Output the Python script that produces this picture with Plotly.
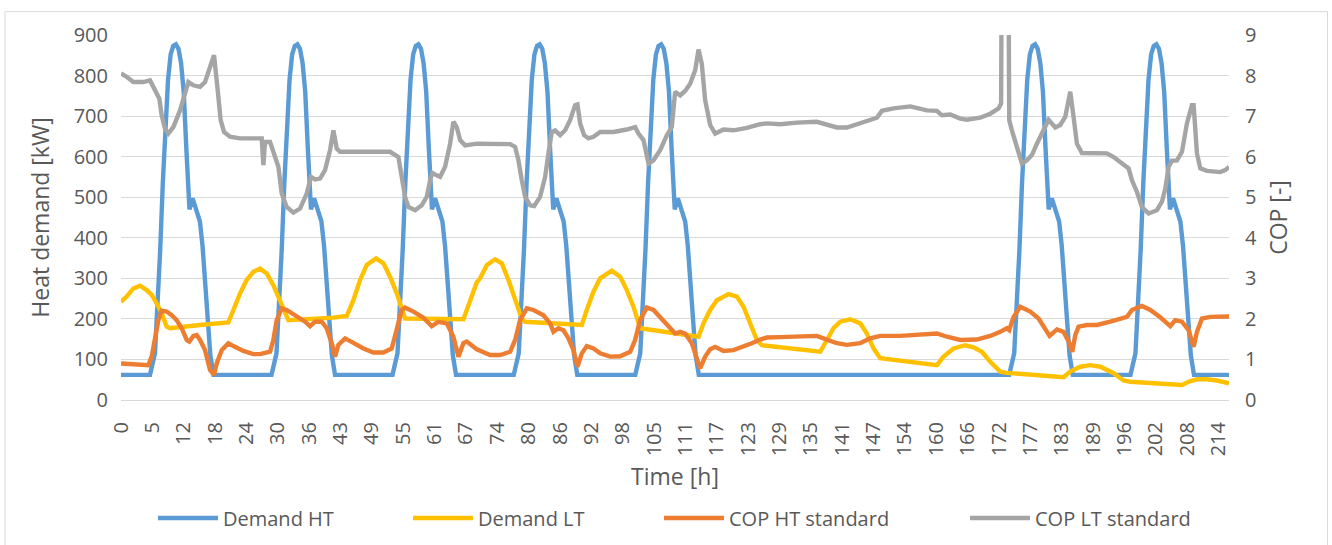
import plotly.graph_objects as go

# ---------------- data ----------------
# x positions are time-step indices (213 steps, labels every 6th step)
tick_labels = [0, 5, 12, 18, 24, 30, 36, 43, 49, 55, 61, 67, 74, 80, 86, 92, 98, 105,
               111, 117, 123, 129, 135, 141, 147, 154, 160, 166, 172, 177, 183, 189,
               196, 202, 208, 214]
tick_steps = [6 * k for k in range(len(tick_labels))]

demand_ht_step = [
    0,
    5.55, 6.5, 7.0, 7.5, 8.0, 8.5, 9.0, 9.5, 10.0, 10.5, 11.0, 11.5, 12.0, 12.5, 12.9, 13.1, 13.7, 14.6, 15.1, 15.6, 16.1, 16.6, 17.1, 17.7,
    28.8, 29.75, 30.25, 30.75, 31.25, 31.75, 32.25, 32.75, 33.25, 33.75, 34.25, 34.75, 35.25, 35.75, 36.15, 36.35, 36.95, 37.85, 38.35, 38.85, 39.35, 39.85, 40.35, 40.95,
    51.95, 52.9, 53.4, 53.9, 54.4, 54.9, 55.4, 55.9, 56.4, 56.9, 57.4, 57.9, 58.4, 58.9, 59.3, 59.5, 60.1, 61.0, 61.5, 62.0, 62.5, 63.0, 63.5, 64.1,
    75.15, 76.1, 76.6, 77.1, 77.6, 78.1, 78.6, 79.1, 79.6, 80.1, 80.6, 81.1, 81.6, 82.1, 82.5, 82.7, 83.3, 84.2, 84.7, 85.2, 85.7, 86.2, 86.7, 87.3,
    98.4, 99.35, 99.85, 100.35, 100.85, 101.35, 101.85, 102.35, 102.85, 103.35, 103.85, 104.35, 104.85, 105.35, 105.75, 105.95, 106.55, 107.45, 107.95, 108.45, 108.95, 109.45, 109.95, 110.55,
    169.95, 170.9, 171.4, 171.9, 172.4, 172.9, 173.4, 173.9, 174.4, 174.9, 175.4, 175.9, 176.4, 176.9, 177.3, 177.5, 178.1, 179.0, 179.5, 180.0, 180.5, 181.0, 181.5, 182.1,
    193.15, 194.1, 194.6, 195.1, 195.6, 196.1, 196.6, 197.1, 197.6, 198.1, 198.6, 199.1, 199.6, 200.1, 200.5, 200.7, 201.3, 202.2, 202.7, 203.2, 203.7, 204.2, 204.7, 205.3,
    212,
]
demand_ht_kw = [
    62,
    62, 115, 230, 370, 535, 680, 790, 852, 873, 877, 866, 830, 760, 620, 500, 470, 497, 465, 440, 380, 280, 185, 110, 62,
    62, 115, 230, 370, 535, 680, 790, 852, 873, 877, 866, 830, 760, 620, 500, 470, 497, 465, 440, 380, 280, 185, 110, 62,
    62, 115, 230, 370, 535, 680, 790, 852, 873, 877, 866, 830, 760, 620, 500, 470, 497, 465, 440, 380, 280, 185, 110, 62,
    62, 115, 230, 370, 535, 680, 790, 852, 873, 877, 866, 830, 760, 620, 500, 470, 497, 465, 440, 380, 280, 185, 110, 62,
    62, 115, 230, 370, 535, 680, 790, 852, 873, 877, 866, 830, 760, 620, 500, 470, 497, 465, 440, 380, 280, 185, 110, 62,
    62, 115, 230, 370, 535, 680, 790, 852, 873, 877, 866, 830, 760, 620, 500, 470, 497, 465, 440, 380, 280, 185, 110, 62,
    62, 115, 230, 370, 535, 680, 790, 852, 873, 877, 866, 830, 760, 620, 500, 470, 497, 465, 440, 380, 280, 185, 110, 62,
    62,
]

demand_lt_step = [
    0, 1.08, 2.36, 3.64, 4.91, 5.87, 6.83, 7.78, 8.74, 9.38, 15.12, 20.54, 21.5, 22.78, 24.05, 25.33, 26.6,
    27.88, 29.15, 30.43, 31.39, 32.03, 40.64, 43.19, 44.47, 45.74, 47.02, 48.8, 50.21, 51.48, 52.76, 53.72,
    54.35, 65.52, 66.8, 68.07, 68.71, 70.0, 71.58, 72.86, 74.13, 75.41, 76.68, 77.32, 88.17, 89.12, 90.4,
    91.68, 93.9, 95.5, 96.78, 98.05, 99.33, 110.5, 111.45, 112.73, 114.0, 116.24, 117.83, 119.11, 120.38,
    121.66, 122.62, 133.78, 135.06, 136.33, 137.61, 139.52, 141.44, 142.71, 143.99, 145.26, 156.11, 157.39,
    159.3, 161.53, 163.13, 164.72, 166.32, 168.23, 169.51, 180.35, 181.63, 183.54, 185.45, 187.37, 189.92,
    191.83, 193.11, 203.0, 204.27, 205.87, 207.78, 209.7, 212,
]
demand_lt_kw = [
    242, 255, 275, 282, 271, 259, 238, 214, 181, 177, 185, 191, 222, 263, 296, 316, 324,
    312, 283, 242, 214, 197, 203, 207, 246, 296, 333, 349, 337, 304, 263, 222,
    201, 199, 246, 290, 300, 333, 347, 337, 296, 246, 201, 193, 185, 222, 267,
    300, 319, 304, 271, 230, 177, 156, 189, 222, 246, 261, 255, 230, 189,
    148, 135, 119, 148, 177, 193, 199, 189, 164, 127, 103, 86, 107,
    127, 135, 130, 119, 94, 70, 67, 56, 70, 82, 86, 82, 66,
    48, 45, 37, 45, 51, 51, 48, 41,
]

cop_ht_step = [
    0, 5.23, 5.87, 6.51, 7.15, 7.78, 8.74, 9.7, 10.65, 11.61, 12.57, 13.08, 13.84, 14.48, 15.12, 16.08,
    17.03, 17.8, 18.31, 19.27, 20.54, 21.5, 23.41, 25.33, 26.6, 28.52, 29.15, 29.79, 30.75, 31.71, 33.62,
    35.22, 36.17, 37.13, 38.41, 39.36, 40.32, 40.96, 41.59, 42.87, 44.47, 46.38, 48.29, 50.21, 51.8, 52.76,
    53.72, 54.35, 55.95, 57.86, 59.46, 60.73, 62.33, 63.6, 64.56, 65.52, 66.16, 68.07, 70.62, 72.54, 74.45,
    75.41, 76.36, 77.64, 78.92, 80.83, 82.11, 82.74, 83.7, 84.66, 85.61, 86.57, 87.34, 88.17, 89.12, 90.4,
    91.68, 93.59, 95.5, 97.42, 98.37, 99.33, 100.61, 101.88, 103.48, 105.07, 106.03, 106.99, 107.94, 109.22,
    110.18, 110.81, 111.77, 112.73, 113.69, 115.28, 117.19, 119.11, 120.7, 122.3, 123.57, 126.13, 129.95,
    133.14, 135.06, 136.97, 138.88, 141.44, 143.35, 145.26, 149.09, 152.92, 156.11, 158.02, 160.57, 163.76,
    166.32, 168.23, 169.51, 169.95, 170.78, 172.06, 173.97, 175.57, 176.84, 177.67, 179.08, 180.35, 181.31,
    182.01, 182.58, 183.22, 184.82, 186.73, 189.28, 192.47, 193.43, 195.34, 196.94, 198.85, 200.77, 201.72,
    203.0, 204.27, 205.23, 205.87, 206.83, 208.42, 212,
]
cop_ht_value = [
    0.90, 0.86, 1.07, 1.56, 1.97, 2.20, 2.18, 2.09, 1.97, 1.77, 1.48, 1.44, 1.58, 1.60, 1.48, 1.23,
    0.74, 0.62, 0.90, 1.23, 1.40, 1.33, 1.21, 1.13, 1.13, 1.19, 1.48, 1.97, 2.26, 2.22, 2.07,
    1.93, 1.82, 1.93, 1.93, 1.77, 1.40, 1.07, 1.36, 1.52, 1.41, 1.27, 1.17, 1.17, 1.27, 1.77,
    2.22, 2.28, 2.18, 2.03, 1.82, 1.93, 1.89, 1.56, 1.07, 1.40, 1.44, 1.25, 1.11, 1.11, 1.19,
    1.48, 1.97, 2.26, 2.22, 2.09, 1.89, 1.68, 1.77, 1.72, 1.52, 1.23, 0.82, 1.15, 1.33, 1.27,
    1.15, 1.07, 1.08, 1.19, 1.48, 1.97, 2.28, 2.22, 2.01, 1.77, 1.64, 1.68, 1.64, 1.40,
    1.07, 0.78, 1.07, 1.25, 1.31, 1.21, 1.23, 1.31, 1.40, 1.49, 1.54, 1.55, 1.56,
    1.58, 1.49, 1.40, 1.36, 1.40, 1.52, 1.58, 1.58, 1.62, 1.64, 1.56, 1.48, 1.49,
    1.58, 1.68, 1.77, 1.72, 2.05, 2.30, 2.18, 2.01, 1.77, 1.58, 1.74, 1.68, 1.44,
    1.19, 1.60, 1.81, 1.85, 1.85, 1.93, 2.05, 2.22, 2.32, 2.22, 2.04, 1.82, 1.97,
    1.93, 1.72, 1.31, 1.68, 2.01, 2.05, 2.06,
]

cop_lt_step = [
    0, 1.08, 2.36, 4.27, 5.55, 6.19, 6.83, 7.34, 7.78, 8.42, 9.06, 10.02, 11.29, 12.25, 12.89, 13.84,
    15.12, 16.08, 17.03, 17.8, 18.44, 19.07, 19.71, 20.86, 22.78, 25.97, 26.92, 27.24, 27.56, 28.52, 29.15,
    30.11, 30.75, 31.71, 32.98, 34.26, 35.53, 36.36, 37.13, 38.09, 39.04, 40.0, 40.64, 41.28, 41.91, 51.48,
    53.08, 53.72, 54.35, 54.99, 56.27, 57.54, 58.5, 59.14, 59.59, 60.41, 61.05, 62.01, 62.97, 63.6, 64.24,
    64.88, 65.84, 68.07, 72.54, 74.45, 75.41, 76.04, 76.68, 77.32, 78.28, 79.04, 80.19, 81.15, 81.79, 82.42,
    83.06, 84.02, 84.98, 85.93, 86.89, 87.34, 87.85, 88.61, 89.44, 90.4, 91.68, 94.23, 96.78, 98.37, 99.01,
    99.97, 100.93, 101.88, 103.16, 104.44, 105.39, 106.03, 106.99, 107.94, 108.9, 109.86, 110.5, 111.13,
    111.77, 112.73, 113.69, 115.28, 117.19, 119.74, 122.3, 123.57, 126.13, 129.31, 133.14, 135.06, 136.97,
    138.88, 140.8, 142.71, 143.99, 144.63, 145.58, 147.82, 151.01, 152.28, 154.2, 156.11, 157.07, 158.66,
    160.57, 161.85, 164.4, 166.32, 167.91, 168.4, 168.55, 169.75, 169.95, 170.46, 171.42, 172.38, 173.33,
    174.29, 175.25, 176.52, 177.48, 178.76, 179.71, 180.67, 181.63, 182.26, 182.9, 183.86, 186.09, 188.64,
    189.92, 191.19, 192.15, 192.79, 193.43, 194.39, 195.34, 196.62, 198.21, 199.17, 199.81, 200.45, 201.08,
    202.04, 203.0, 203.95, 204.91, 205.23, 205.87, 206.51, 207.78, 210.33, 211.29, 212,
]
cop_lt_value = [
    8.05, 7.97, 7.84, 7.84, 7.88, 7.72, 7.51, 7.43, 7.02, 6.69, 6.57, 6.73, 7.14, 7.51, 7.84, 7.76,
    7.72, 7.84, 8.25, 8.50, 7.72, 6.90, 6.61, 6.49, 6.45, 6.43, 6.45, 5.79, 6.36, 6.36, 6.08,
    5.75, 5.09, 4.76, 4.62, 4.72, 5.09, 5.50, 5.44, 5.46, 5.67, 6.16, 6.65, 6.20, 6.12, 6.12,
    5.99, 5.50, 5.01, 4.76, 4.68, 4.80, 5.01, 5.42, 5.60, 5.54, 5.50, 5.75, 6.32, 6.86, 6.73,
    6.41, 6.28, 6.32, 6.32, 6.31, 6.24, 5.91, 5.42, 5.01, 4.80, 4.78, 5.01, 5.50, 6.08, 6.61,
    6.65, 6.53, 6.65, 6.90, 7.27, 7.29, 6.82, 6.53, 6.45, 6.49, 6.61, 6.61, 6.67, 6.73, 6.57,
    6.41, 5.83, 5.91, 6.16, 6.53, 6.73, 7.60, 7.51, 7.62, 7.80, 8.13, 8.64, 8.29,
    7.39, 6.78, 6.57, 6.67, 6.65, 6.71, 6.80, 6.82, 6.80, 6.84, 6.86, 6.78, 6.72,
    6.72, 6.80, 6.90, 6.96, 6.96, 7.13, 7.19, 7.24, 7.21, 7.14, 7.13, 7.02, 7.04,
    6.94, 6.91, 6.96, 7.06, 7.19, 7.31, 12.0, 12.0, 6.90, 6.65, 6.24, 5.83, 5.91,
    6.04, 6.32, 6.65, 6.91, 6.72, 6.78, 6.98, 7.60, 6.98, 6.32, 6.09, 6.09, 6.08,
    5.99, 5.87, 5.75, 5.71, 5.42, 5.13, 4.76, 4.60, 4.68, 4.89, 5.21, 5.75, 5.90,
    5.91, 6.12, 6.82, 7.27, 7.27, 6.08, 5.71, 5.65, 5.62, 5.67, 5.75,
]

series_names = ["Demand HT", "Demand LT", "COP HT standard", "COP LT standard"]
series_colors = ["#5B9BD5", "#FFC000", "#ED7D31", "#A5A5A5"]

# ---------------- figure ----------------
FONT = "Open Sans"
TXT = "#595959"
GRID = "#D9D9D9"
LW = 4.4

fig = go.Figure()
fig.add_trace(go.Scatter(x=demand_ht_step, y=demand_ht_kw, name=series_names[0], mode="lines",
                         line=dict(color=series_colors[0], width=LW), yaxis="y", legend="legend"))
fig.add_trace(go.Scatter(x=demand_lt_step, y=demand_lt_kw, name=series_names[1], mode="lines",
                         line=dict(color=series_colors[1], width=LW), yaxis="y", legend="legend2"))
fig.add_trace(go.Scatter(x=cop_ht_step, y=cop_ht_value, name=series_names[2], mode="lines",
                         line=dict(color=series_colors[2], width=LW), yaxis="y2", legend="legend3"))
fig.add_trace(go.Scatter(x=cop_lt_step, y=cop_lt_value, name=series_names[3], mode="lines",
                         line=dict(color=series_colors[3], width=LW), yaxis="y2", legend="legend4"))

L, R, T, B = 121, 103, 35, 145
W, H = 1332, 545
pw, ph = W - L - R, H - T - B


def px2paper_x(p):
    return (p - L) / pw


def px2paper_y(p):
    return (H - B - p) / ph


legend_common = dict(orientation="h", yanchor="middle", xanchor="left",
                     y=px2paper_y(518), font=dict(family=FONT, size=20, color=TXT),
                     bgcolor="rgba(0,0,0,0)", itemwidth=60, borderwidth=0)

fig.update_layout(
    width=W, height=H,
    margin=dict(l=L, r=R, t=T, b=B, autoexpand=False),
    paper_bgcolor="white", plot_bgcolor="white",
    font=dict(family=FONT, color=TXT),
    showlegend=True,
    legend=dict(x=px2paper_x(153), **legend_common),
    legend2=dict(x=px2paper_x(408), **legend_common),
    legend3=dict(x=px2paper_x(659), **legend_common),
    legend4=dict(x=px2paper_x(965), **legend_common),
    xaxis=dict(
        range=[0, 212], tickmode="array", tickvals=tick_steps,
        ticktext=[str(v) for v in tick_labels], tickangle=-90,
        tickfont=dict(family=FONT, size=20, color=TXT),
        showgrid=False, zeroline=False, showline=True, linecolor=GRID, linewidth=1,
        ticks="", ticklabelstandoff=13, automargin=False,
        title=dict(text="Time [h]", font=dict(family=FONT, size=23, color=TXT), standoff=13),
    ),
    yaxis=dict(
        range=[0, 900], dtick=100, tick0=0,
        tickfont=dict(family=FONT, size=20, color=TXT),
        showgrid=True, gridcolor=GRID, gridwidth=1.3, zeroline=False,
        ticks="", ticklabelstandoff=12, automargin=False,
        title=dict(text="Heat demand [kW]", font=dict(family=FONT, size=23, color=TXT), standoff=17),
    ),
    yaxis2=dict(
        range=[0, 9], dtick=1, tick0=0, overlaying="y", side="right",
        tickfont=dict(family=FONT, size=20, color=TXT),
        showgrid=False, zeroline=False, ticks="", ticklabelstandoff=15, automargin=False,
        title=dict(text="COP [-]", font=dict(family=FONT, size=23, color=TXT), standoff=14),
    ),
    shapes=[dict(type="rect", xref="paper", yref="paper",
                 x0=px2paper_x(5), x1=px2paper_x(1327.5),
                 y0=px2paper_y(548), y1=px2paper_y(11.7),
                 line=dict(color=GRID, width=1), fillcolor="rgba(0,0,0,0)", layer="below")],
)

fig.write_html("out.html", config={"displayModeBar": False},
               post_script="document.body.style.margin='0';")
